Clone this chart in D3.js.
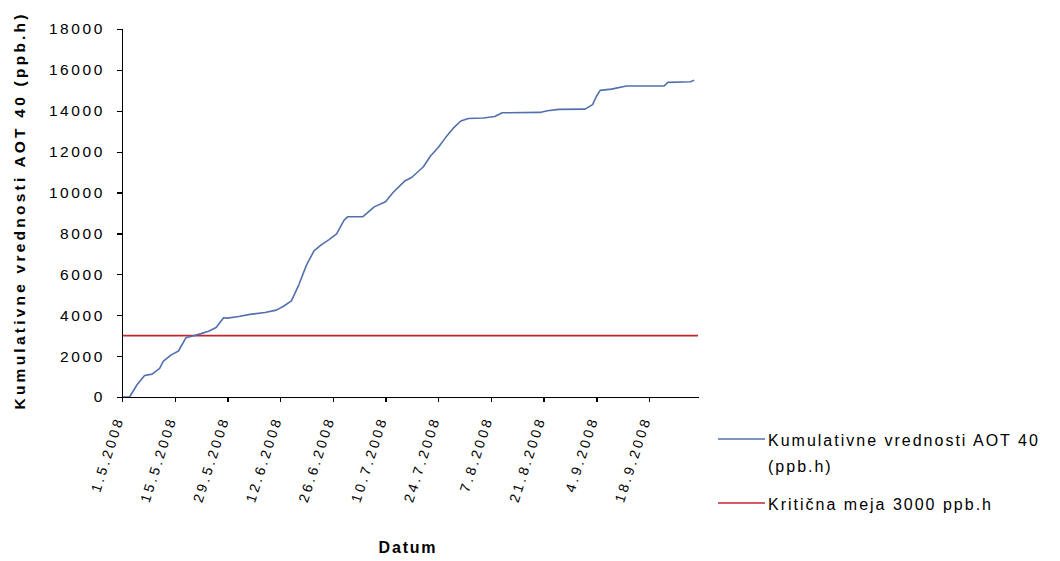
<html>
<head>
<style>
  body{margin:0;background:#fff}
  .chart text{font-family:"Liberation Sans",Arial,sans-serif;fill:#000}
  .axis path,.axis line{stroke:#000;stroke-width:1.3px;shape-rendering:crispEdges}
</style>
</head>
<body>
<div id="aot"></div>
<script src="https://d3js.org/d3.v7.min.js"></script>
<script>
// cumulative AOT40 values (ppb.h)
var dates = ["2008-05-01","2008-05-03","2008-05-05","2008-05-07","2008-05-09","2008-05-11","2008-05-12",
  "2008-05-14","2008-05-16","2008-05-18","2008-05-20","2008-05-22","2008-05-24","2008-05-26","2008-05-28",
  "2008-05-29","2008-06-01","2008-06-04","2008-06-08","2008-06-11","2008-06-13","2008-06-15","2008-06-17",
  "2008-06-19","2008-06-21","2008-06-23","2008-06-25","2008-06-27","2008-06-29","2008-06-30","2008-07-04",
  "2008-07-07","2008-07-10","2008-07-12","2008-07-15","2008-07-17","2008-07-20","2008-07-22","2008-07-24",
  "2008-07-26","2008-07-28","2008-07-30","2008-08-01","2008-08-05","2008-08-08","2008-08-10","2008-08-20",
  "2008-08-22","2008-08-25","2008-09-01","2008-09-03","2008-09-04","2008-09-05","2008-09-08","2008-09-12",
  "2008-09-22","2008-09-23","2008-09-29","2008-09-30"];
var aot40 = [0,0,600,1050,1120,1400,1750,
  2050,2250,2900,3000,3100,3220,3400,3880,
  3860,3940,4040,4130,4250,4450,4700,5500,
  6450,7150,7450,7700,7980,8650,8820,8820,
  9300,9550,10000,10550,10750,11250,11800,12200,
  12700,13150,13500,13620,13650,13720,13900,13920,
  14000,14070,14080,14300,14700,15000,15060,15210,
  15220,15390,15420,15500];
var limitDates = ["2008-05-01","2008-10-01"];
var limitValues = [3000,3000];
var tickDates = ["2008-05-01","2008-05-15","2008-05-29","2008-06-12","2008-06-26","2008-07-10",
  "2008-07-24","2008-08-07","2008-08-21","2008-09-04","2008-09-18"];
var yTicks = [0,2000,4000,6000,8000,10000,12000,14000,16000,18000];
var legendLabels = [["Kumulativne vrednosti AOT 40","(ppb.h)"],["Kritična meja 3000 ppb.h"]];
var legendColors = ["#5270ae","#c3262c"];

var parse = d3.timeParse("%Y-%m-%d"),
    fmt = d3.timeFormat("%-d.%-m.%Y");

var W = 1060, H = 561,
    m = {left:122, top:29, right:362, bottom:164},
    w = W - m.left - m.right,
    h = H - m.top - m.bottom;

var svg = d3.select("#aot").append("svg")
  .attr("class","chart")
  .attr("width",W).attr("height",H);

var x = d3.scaleTime()
  .domain([parse("2008-05-01"), parse("2008-10-01")])
  .range([0,w]);
var y = d3.scaleLinear().domain([0,18000]).range([h,0]);

var g = svg.append("g").attr("transform","translate("+m.left+","+m.top+")");

var series = dates.map(function(d,i){ return {d:parse(d), v:aot40[i]}; });
var limit = limitDates.map(function(d,i){ return {d:parse(d), v:limitValues[i]}; });
var line = d3.line().x(function(p){ return x(p.d); }).y(function(p){ return y(p.v); });

g.append("path").datum(limit).attr("d",line)
  .attr("fill","none").attr("stroke",legendColors[1]).attr("stroke-width",1.6);
g.append("path").datum(series).attr("d",line)
  .attr("fill","none").attr("stroke",legendColors[0]).attr("stroke-width",1.6)
  .attr("stroke-linejoin","round");

// y axis
var ya = g.append("g").attr("class","axis")
  .call(d3.axisLeft(y).tickValues(yTicks).tickFormat(d3.format("d")).tickSize(5).tickPadding(12));
ya.selectAll("text").style("font-size","15.5px").style("letter-spacing","2.6px");

// x axis
var xa = g.append("g").attr("class","axis").attr("transform","translate(0,"+h+")")
  .call(d3.axisBottom(x).tickValues(tickDates.map(parse)).tickFormat(fmt).tickSize(5).tickSizeOuter(0));
xa.selectAll("text")
  .style("font-size","14px").style("letter-spacing","3px")
  .attr("text-anchor","end")
  .attr("dy","0.35em").attr("y",0)
  .attr("transform","translate(-3,20) rotate(-72)");

// axis titles
svg.append("text")
  .attr("transform","translate(25,"+(m.top+h/2-1)+") rotate(-90)")
  .attr("text-anchor","middle")
  .style("font-size","15.5px").style("font-weight","bold")
  .attr("textLength",395).attr("lengthAdjust","spacing")
  .text("Kumulativne vrednosti AOT 40 (ppb.h)");

svg.append("text")
  .attr("x",408).attr("y",553)
  .attr("text-anchor","middle")
  .style("font-size","16px").style("font-weight","bold").style("letter-spacing","1.8px")
  .text("Datum");

// legend
var leg = svg.append("g").attr("transform","translate(718,439)");
var rowsY = [0,64];
legendLabels.forEach(function(lines,i){
  leg.append("line").attr("x1",0).attr("x2",47).attr("y1",rowsY[i]).attr("y2",rowsY[i])
    .attr("stroke",legendColors[i]).attr("stroke-width",1.6);
  var t = leg.append("text").attr("x",50).attr("y",rowsY[i]+7)
    .style("font-size","16px").style("letter-spacing","2px");
  lines.forEach(function(s,j){
    t.append("tspan").attr("x",50).attr("dy",j?26:0).text(s);
  });
});
</script>
</body>
</html>
